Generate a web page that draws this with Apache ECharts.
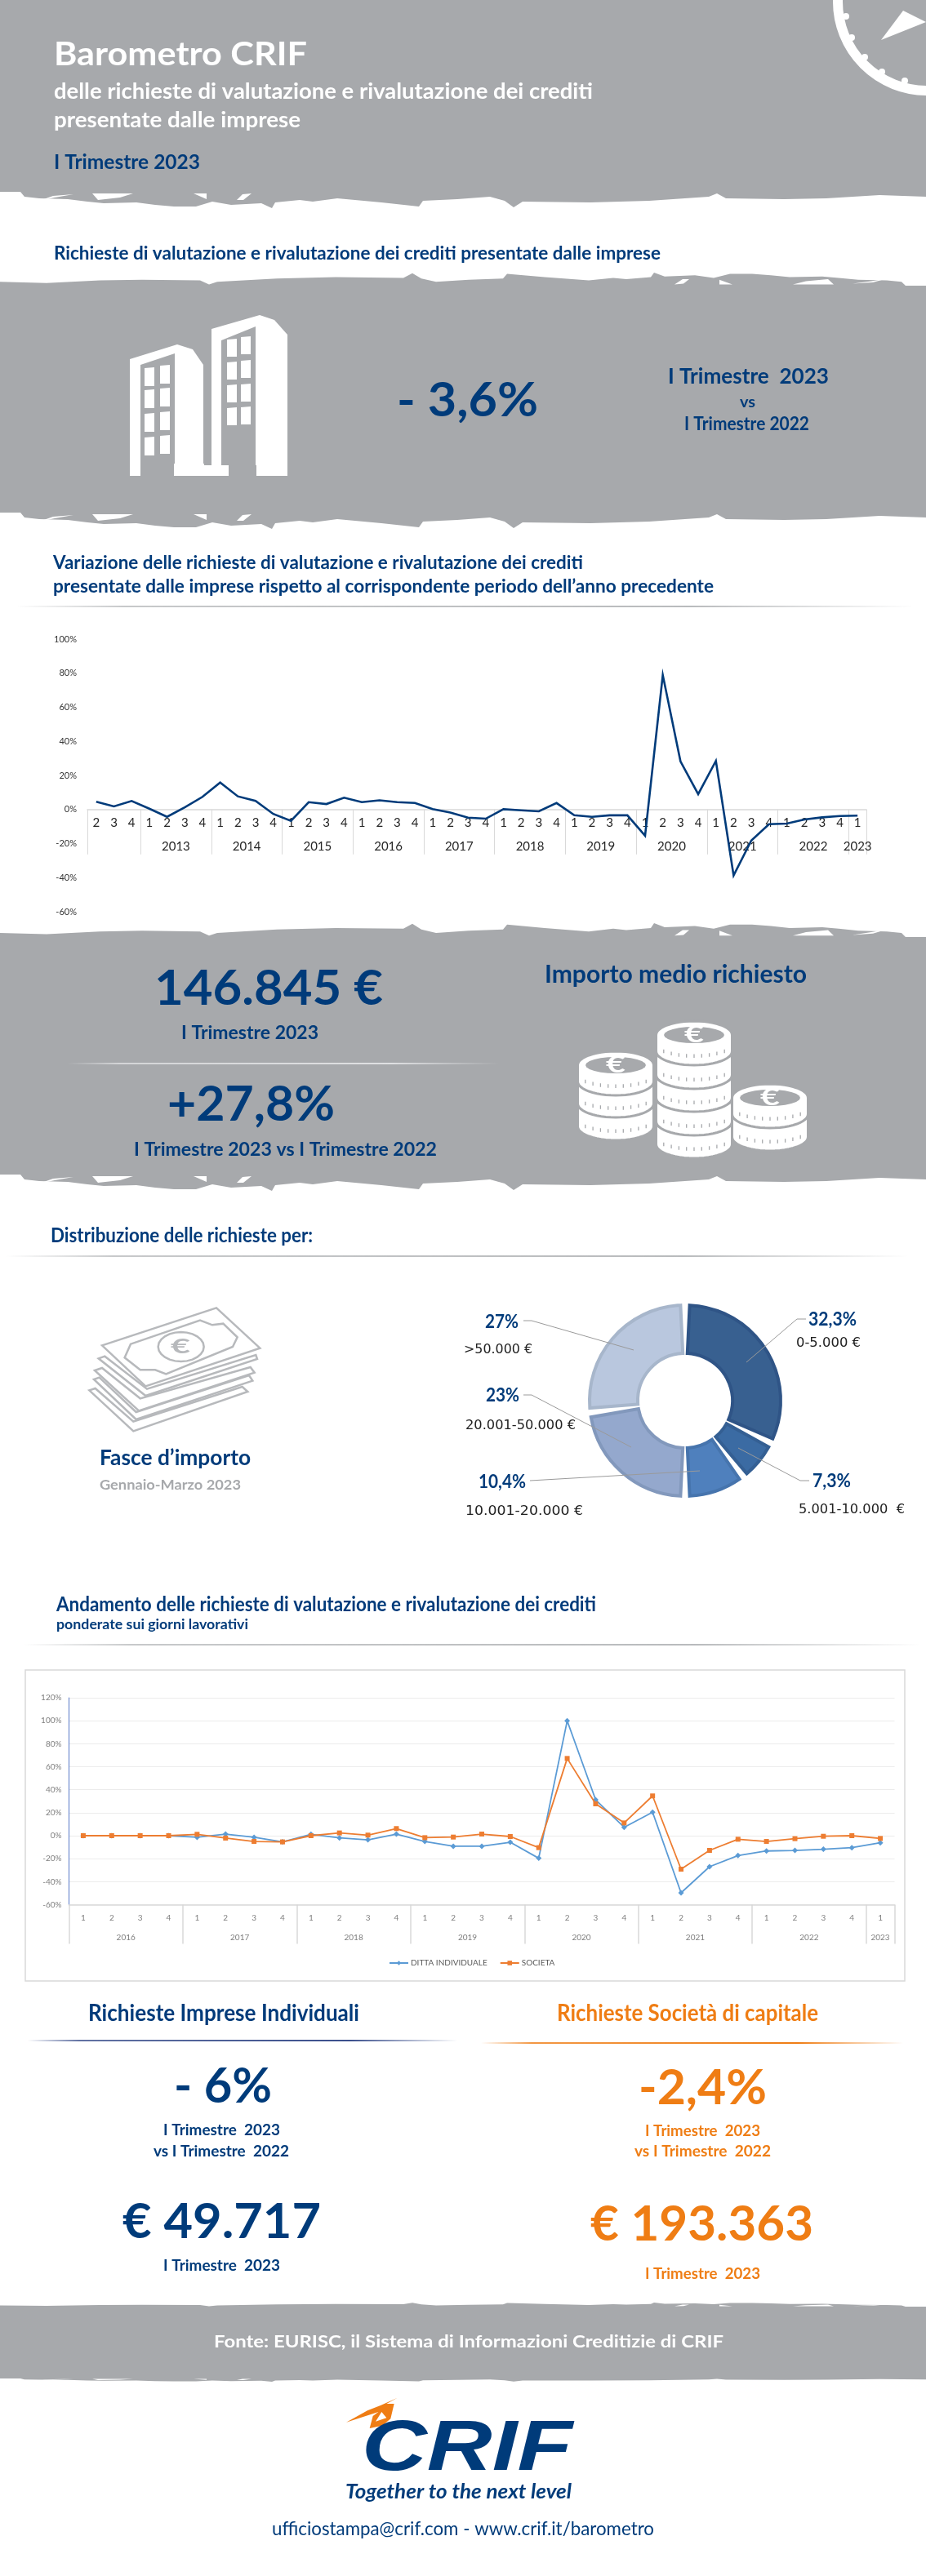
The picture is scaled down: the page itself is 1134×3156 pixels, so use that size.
<!DOCTYPE html>
<html lang="it">
<head>
<meta charset="utf-8">
<title>Barometro CRIF</title>
<style>html,body{margin:0;padding:0;background:#fff}#c{width:1134px;height:3156px}</style>
<script src="https://cdn.jsdelivr.net/npm/echarts@6/dist/echarts.min.js"></script>
</head>
<body>
<div id="c"></div>
<script>
// ---------- data ----------
const variationQuarters = ['2','3','4','1','2','3','4','1','2','3','4','1','2','3','4','1','2','3','4','1','2','3','4','1','2','3','4','1','2','3','4','1','2','3','4','1','2','3','4','1','2','3','4','1'];
const variationValues = [4.6,1.8,5,0.5,-4.3,1.3,7.4,15.8,7.7,5,-2.6,-6.7,4.3,3.2,6.9,4.3,5.4,4.3,3.8,0.2,-1.8,-4.8,-5.4,0.2,-0.5,-1.1,3.8,-3.4,-4.3,-3.4,-3.4,-15.4,78.9,28.2,9,28.5,-38.7,-18.2,-8.6,-8.3,-5.9,-4.6,-3.8,-3.6];
const variationYears = ['2013','2014','2015','2016','2017','2018','2019','2020','2021','2022','2023'];
const variationYearStarts = [0,3,7,11,15,19,23,27,31,35,39,43,44];

const trendQuarters = ['1','2','3','4','1','2','3','4','1','2','3','4','1','2','3','4','1','2','3','4','1','2','3','4','1','2','3','4','1'];
const dittaValues = [0,0,0,0,-1.4,1.4,-1.4,-5.4,1.2,-1.9,-3.6,1.4,-5,-9.2,-9.2,-5.7,-19.6,99.9,31.2,7.3,20.4,-49.7,-27,-17.3,-13.3,-12.8,-11.8,-10.4,-6.2];
const societaValues = [0,0,0,0,1.2,-2.1,-5,-5.4,0,2.4,0.5,6.2,-1.7,-1.2,1.4,-0.7,-10.4,67.2,27.7,11.1,34.6,-29.1,-12.8,-3.1,-5,-2.6,-0.5,0,-2.4];
const trendYears = ['2016','2017','2018','2019','2020','2021','2022','2023'];
const trendYearStarts = [0,4,8,12,16,20,24,28,29];

const fasceNames = ['0-5.000 €','5.001-10.000  €','10.001-20.000 €','20.001-50.000 €','>50.000 €'];
const fasceValues = [32.3,7.3,10.4,23,27];
const fasceColors = ['#386090','#3b6ba3','#4f80bd','#94a8cd','#b9c7de'];
const fasceBorders = ['#2f5486','#345f93','#4674ad','#8298bc','#a7b6cb'];

// ---------- palette ----------
const NAVY='#003b7a', ORANGE='#ef7d14', BAND='#a7a9ac', W='#ffffff';
const FONT='Lato';
const els=[];
const mcv=document.createElement('canvas').getContext('2d');

function T(text,x,cy,size,width,fill,weight,family,extra){
  const fam=family||FONT, wt=weight||'bold';
  const italic=extra&&extra.italic?'italic ':'';
  mcv.font=`${italic}${wt} ${size}px "${fam}"`;
  const m=mcv.measureText(text).width;
  els.push({type:'text',x:x,y:cy,scaleX:width?width/m:1,silent:true,z:50,
    style:{text:text,fill:fill,align:'left',verticalAlign:'middle',
      font:`${italic}${wt} ${size}px "${fam}"`}});
}
function P(points,fill,stroke,lw,z){
  els.push({type:'polygon',silent:true,z:z||10,shape:{points:points},
    style:{fill:fill||'none',stroke:stroke||'none',lineWidth:lw||0,lineJoin:'miter'}});
}
function L(points,stroke,lw,z){
  els.push({type:'polyline',silent:true,z:z||60,shape:{points:points},
    style:{fill:'none',stroke:stroke,lineWidth:lw||1}});
}
function arcPts(cx,cy,rx,ry,a0,a1){
  const out=[];
  for(let k=0;k<=24;k++){const a=a0+(a1-a0)*k/24;out.push([cx+rx*Math.cos(a),cy+ry*Math.sin(a)]);}
  return out;
}
function ell(cx,cy,rx,ry,fill,stroke,lw,z){P(arcPts(cx,cy,rx,ry,0,Math.PI*2),fill,stroke,lw,z);}
function grad(x,y,w,h,c,z){
  els.push({type:'rect',silent:true,z:z||10,shape:{x:x,y:y,width:w,height:h},
    style:{fill:new echarts.graphic.LinearGradient(0,0,1,0,[
      {offset:0,color:c+'00'},{offset:.12,color:c+'cc'},{offset:.75,color:c+'ff'},{offset:1,color:c+'00'}])}});
}

// ---------- torn band edges ----------
const tear=[[0,235],[25,235],[30,241],[48,243],[83,244],[107,247],[127,249],[167,248],[190,251],[213,253],[240,253],[260,247],[283,251],[320,249],[333,255],[337,248],[367,245],[383,247],[413,243],[467,248],[513,253],[518,246],[560,244],[600,241],[618,246],[629,254],[640,247],[723,248],[795,246],[868,241],[878,237],[889,243],[960,244],[1012,243],[1077,239],[1134,241]];
const tearHoles=[
  [[113,235],[163,235],[147,240],[120,243]],
  [[237,235],[253,235],[253,242]],
  [[290,243],[297,236],[308,235],[298,243]],
  [[48,244],[65,238],[90,236],[67,240]]
];
function band(topY,topS,botY,botS){
  const pts=[];
  if(topY==null){pts.push([0,0],[1134,0]);}
  else tear.slice().reverse().forEach(p=>pts.push([1134-p[0],topY-(p[1]-235)*topS]));
  tear.slice().reverse().forEach(p=>pts.push([p[0],botY+(p[1]-235)*botS]));
  P(pts,BAND,null,0,1);
  tearHoles.forEach(h=>{
    P(h.map(p=>[p[0],botY+(p[1]-235)*botS+2*botS]),W,null,0,2);
    if(topY!=null) P(h.map(p=>[1134-p[0],topY-(p[1]-235)*topS-2*topS]),W,null,0,2);
  });
}
band(null,0,235,1);
band(350,.8,628,1);
band(1148,.85,1439,1);
band(2826,.25,2914,.2);

// ---------- compass ----------
els.push({type:'circle',silent:true,z:5,shape:{cx:1135,cy:2,r:109},style:{fill:'none',stroke:W,lineWidth:12}});
[[1036,20],[1043,46],[1059,70],[1080,88],[1108,99]].forEach(d=>els.push({type:'circle',silent:true,z:5,shape:{cx:d[0],cy:d[1],r:4},style:{fill:W}}));
P([[1079,49],[1106,13],[1134,27]],W,null,0,5);

// ---------- header ----------
T('Barometro CRIF',66,67,41,310,W);
T('delle richieste di valutazione e rivalutazione dei crediti',66,113,26,660,W);
T('presentate dalle imprese',66,148,26,302,W);
T('I Trimestre 2023',66,199,24,179,NAVY);
T('Richieste di valutazione e rivalutazione dei crediti presentate dalle imprese',66,311,22,743,NAVY);

// buildings
P([[159,440],[217,422],[236,428],[249,447],[249,570],[259,570],[259,403],[318,386],[336,392],[352,410],[352,583],[314,583],[314,570],[278,570],[278,583],[214,583],[214,570],[172,570],[172,583],[159,583]],W,null,0,5);
P([[172,447],[214,433],[214,575],[172,575]],BAND,null,0,6);
P([[271,417],[313,400],[313,575],[271,575]],BAND,null,0,6);
P([[259,570],[280,570],[280,583],[259,583]],W,null,0,7);
P([[213,568],[250,568],[250,583],[213,583]],W,null,0,7);
[[177,451],[177,478],[177,507],[177,536],[196,448],[196,476],[196,505],[196,534]].forEach(w=>P([[w[0],w[1]],[w[0]+12,w[1]-1],[w[0]+12,w[1]+22],[w[0],w[1]+22]],W,null,0,8));
[[278,416],[278,444],[278,472],[278,500],[295,413],[295,442],[295,471],[295,499]].forEach(w=>P([[w[0],w[1]],[w[0]+12,w[1]-1],[w[0]+12,w[1]+21],[w[0],w[1]+21]],W,null,0,8));

T('- 3,6%',486,491,58,173,NAVY);
T('I Trimestre  2023',818,461,27,197,NAVY);
T('vs',906,493,19,19,NAVY);
T('I Trimestre 2022',838,520,22,153,NAVY);

// section 3
T('Variazione delle richieste di valutazione e rivalutazione dei crediti',65,690,22,649,NAVY);
T('presentate dalle imprese rispetto al corrispondente periodo dell\u2019anno precedente',65,719,22,809,NAVY);
grad(20,742,1100,2,'#b9bbbd');

// section 4 (amount)
T('146.845 €',189,1212,60,280,NAVY);
T('I Trimestre 2023',222,1266,23,168,NAVY);
grad(83,1302,528,2,'#dfe0e2',5);
T('+27,8%',205,1354,60,205,NAVY);
T('I Trimestre 2023 vs I Trimestre 2022',164,1409,23,371,NAVY);
T('Importo medio richiesto',667,1194,30,321,NAVY);

// coins
function coin(x,cy,top){
  const rx=46.5,ry=17,t=20;
  const sil=arcPts(x,cy,rx,ry,Math.PI,Math.PI*2).concat(arcPts(x,cy+t,rx,ry,0,Math.PI));
  P(sil,W,BAND,3,20);
  for(let i=-4;i<=4;i++){
    const s=i/5, tx=x+rx*s, ty=cy+t*.55+ry*Math.sqrt(1-s*s)*.85;
    L([[tx,ty-2],[tx,ty+2.5]],BAND,1.3,21);
  }
  if(top){
    ell(x,cy,37,10,BAND,null,0,21);
    T('€',x-12,cy,28,24,W,'bold');
  }
}
[[754,1360,0],[754,1332,0],[754,1305,1],
 [850,1382,0],[850,1354,0],[850,1325,0],[850,1297,0],[850,1268,1],
 [943,1373,0],[943,1345,1]].forEach(c=>coin(c[0],c[1],c[2]));

// section 5 (distribution)
T('Distribuzione delle richieste per:',62,1514,24,321,NAVY);
grad(7,1538,1106,2,'#b9bbbd');

// banknotes
const zb=(a)=>a.map(p=>[100+p[0]/3,1595+p[1]/3]);
const NOTE='#b7b9bc';
[[[28,325],[50,318],[190,440],[590,312],[610,330],[190,475]],
 [[45,285],[65,278],[200,405],[615,270],[628,290],[200,432]],
 [[48,252],[75,243],[215,355],[620,240],[635,260],[210,400]],
 [[62,208],[85,200],[240,320],[640,195],[645,210],[235,345]]].forEach(n=>P(zb(n),W,NOTE,2.5,10));
P(zb([[75,160],[495,22],[655,170],[235,310]]),W,NOTE,2.5,11);
P(zb([[158,205],[180,155],[435,68],[480,85],[520,80],[572,130],[555,165],[310,265],[270,250],[215,250]]),W,NOTE,2.5,12);
ell(100+365/3,1595+165/3,28,18,W,NOTE,2.5,13);
T('€',209,1650,24,24,NOTE);

T('Fasce d\u2019importo',122,1786,27,185,NAVY);
T('Gennaio-Marzo 2023',122,1820,17,173,'#a7a9ac');

// donut labels, taken from the data arrays
const fmtPct=v=>String(v).replace('.',',')+'%';
const RANGE='DejaVu Sans', DARK='#222222', RS=15.5;
T(fmtPct(fasceValues[0]),990,1617,22,59,NAVY);
T(fasceNames[0],975,1646,RS,79,DARK,'normal',RANGE);
T(fmtPct(fasceValues[1]),995,1815,22,47,NAVY);
T(fasceNames[1],978,1850,RS,130,DARK,'normal',RANGE);
T(fmtPct(fasceValues[2]),586,1816,22,58,NAVY);
T(fasceNames[2],570,1852,RS,144,DARK,'normal',RANGE);
T(fmtPct(fasceValues[3]),595,1710,22,41,NAVY);
T(fasceNames[3],570,1747,RS,135,DARK,'normal',RANGE);
T(fmtPct(fasceValues[4]),594,1620,22,41,NAVY);
T(fasceNames[4],568,1654,RS,84,DARK,'normal',RANGE);
const LEAD='#9a9a9a';
L([[987,1616],[976,1616],[914,1669]],LEAD,1);
L([[641,1618],[651,1618],[776,1654]],LEAD,1);
L([[641,1709],[651,1709],[773,1773]],LEAD,1);
L([[649,1814],[857,1802]],LEAD,1);
L([[991,1814],[980,1814],[904,1774]],LEAD,1);

// section 6 (trend)
T('Andamento delle richieste di valutazione e rivalutazione dei crediti',69,1966,24,661,NAVY);
T('ponderate sui giorni lavorativi',69,1991,17,235,NAVY);
grad(29,2014,1099,2,'#b9bbbd');
els.push({type:'rect',silent:true,z:1,shape:{x:31,y:2046,width:1077,height:381},style:{fill:'none',stroke:'#d9d9d9',lineWidth:1.5}});

// section 7 (panels)
T('Richieste Imprese Individuali',108,2467,28,332,NAVY);
grad(34,2499,526,2,'#3b4f8c');
T('- 6%',213,2557,60,120,NAVY);
T('I Trimestre  2023',200,2610,18,143,NAVY);
T('vs I Trimestre  2022',188,2636,18,166,NAVY);
T('€ 49.717',150,2723,60,243,NAVY);
T('I Trimestre  2023',200,2776,18,143,NAVY);

T('Richieste Società di capitale',682,2467,28,320,ORANGE);
grad(589,2502,517,2,ORANGE);
T('-2,4%',782,2559,60,157,ORANGE);
T('I Trimestre  2023',790,2611,18,141,ORANGE);
T('vs I Trimestre  2022',777,2636,18,167,ORANGE);
T('€ 193.363',723,2726,60,273,ORANGE);
T('I Trimestre  2023',790,2786,18,141,ORANGE);

// footer
T('Fonte: EURISC, il Sistema di Informazioni Creditizie di CRIF',262,2870,20,624,W);
const zl=(a)=>a.map(p=>[410+p[0]/3,2925+p[1]/3]);
P(zl([[42,128],[120,85],[170,65],[230,38],[190,60],[218,60],[205,115],[175,140],[128,150],[140,105],[160,90]]),ORANGE,null,0,30);
P(zl([[150,125],[190,112],[172,90]]),W,null,0,31);
T('CRIF',443,3002,88,258,NAVY,'bold','Liberation Sans',{italic:true});
T('Together to the next level',423,3053,25,277,NAVY,'bold',FONT,{italic:true});
T('ufficiostampa@crif.com - www.crif.it/barometro',333,3098,24,468,NAVY,'normal');

// ---------- axes helpers ----------
const groupCentres=s=>s.slice(0,-1).map((v,i)=>(v+s[i+1])/2);
const variationCentres=groupCentres(variationYearStarts).slice(1);
const trendCentres=groupCentres(trendYearStarts);
const pctFmt=v=>v+'%';
const ZERO_OFFSET=-125.25; // the first chart's category axis sits on the 0% line

const option={
  animation:false,
  graphic:{elements:els},
  legend:{data:['DITTA INDIVIDUALE','SOCIETA'],left:476,top:2400,padding:0,itemGap:15,itemWidth:23,itemHeight:7,
    textStyle:{fontFamily:FONT,fontSize:10,color:'#595959',padding:[0,0,0,-2]}},
  grid:[
    {left:107,top:783,width:954,height:334,outerBoundsMode:'none'},
    {left:84.5,top:2080,width:1011,height:253.5,outerBoundsMode:'none'}
  ],
  xAxis:[
    {gridIndex:0,type:'category',data:variationQuarters,boundaryGap:true,position:'bottom',offset:ZERO_OFFSET,
      axisLine:{onZero:false,lineStyle:{color:'#d9d9d9',width:1.5}},axisTick:{show:false},
      axisLabel:{interval:0,margin:9,fontFamily:FONT,fontSize:15,color:'#262626'}},
    {gridIndex:0,type:'value',min:0,max:44,position:'bottom',offset:ZERO_OFFSET,splitLine:{show:false},
      axisLine:{show:false,onZero:false},
      axisTick:{show:true,length:55,customValues:variationYearStarts,lineStyle:{color:'#d9d9d9',width:1}},
      axisLabel:{margin:38,fontFamily:FONT,fontSize:15,color:'#262626',customValues:variationCentres,
        formatter:v=>variationYears[variationCentres.indexOf(v)]||''}},
    {gridIndex:1,type:'category',data:trendQuarters,boundaryGap:true,position:'bottom',
      axisLine:{onZero:false,lineStyle:{color:'#d9d9d9',width:1.5}},axisTick:{show:false},
      axisLabel:{interval:0,margin:11,fontFamily:FONT,fontSize:10,color:'#7f7f7f'}},
    {gridIndex:1,type:'value',min:0,max:29,position:'bottom',splitLine:{show:false},
      axisLine:{show:false,onZero:false},
      axisTick:{show:true,length:48,customValues:trendYearStarts,lineStyle:{color:'#d9d9d9',width:1.5}},
      axisLabel:{margin:35,fontFamily:FONT,fontSize:10,color:'#7f7f7f',customValues:trendCentres,
        formatter:v=>trendYears[trendCentres.indexOf(v)]||''}}
  ],
  yAxis:[
    {gridIndex:0,type:'value',min:-60,max:100,interval:20,axisLine:{show:false},axisTick:{show:false},splitLine:{show:false},
      axisLabel:{formatter:pctFmt,margin:13,fontFamily:FONT,fontSize:11,color:'#333333'}},
    {gridIndex:1,type:'value',min:-60,max:120,interval:20,axisLine:{show:true,onZero:false,lineStyle:{color:'#6f8ccf',width:1.2}},axisTick:{show:false},
      splitLine:{lineStyle:{color:'#ececec',width:1.2}},
      axisLabel:{formatter:pctFmt,margin:9,fontFamily:FONT,fontSize:10,color:'#7f7f7f'}}
  ],
  series:[
    {type:'line',xAxisIndex:0,yAxisIndex:0,data:variationValues,symbol:'none',z:5,
      lineStyle:{color:NAVY,width:2.6,join:'miter'}},
    {name:'DITTA INDIVIDUALE',type:'line',xAxisIndex:2,yAxisIndex:1,data:dittaValues,symbol:'diamond',symbolSize:7,z:5,
      lineStyle:{color:'#5b9bd5',width:1.8},itemStyle:{color:'#5b9bd5'}},
    {name:'SOCIETA',type:'line',xAxisIndex:2,yAxisIndex:1,data:societaValues,symbol:'rect',symbolSize:6,z:6,
      lineStyle:{color:'#ed7d31',width:1.8},itemStyle:{color:'#ed7d31'}},
    {type:'pie',center:[839,1716],radius:[58,117],startAngle:90,clockwise:true,padAngle:5.5,z:5,
      label:{show:false},labelLine:{show:false},silent:true,
      data:fasceValues.map((v,i)=>({name:fasceNames[i],value:v,
        itemStyle:{color:fasceColors[i],borderColor:fasceBorders[i],borderWidth:4,borderJoin:'miter'}}))}
  ]
};
const chart=echarts.init(document.getElementById('c'),null,{width:1134,height:3156});
chart.setOption(option);
</script>
</body>
</html>
